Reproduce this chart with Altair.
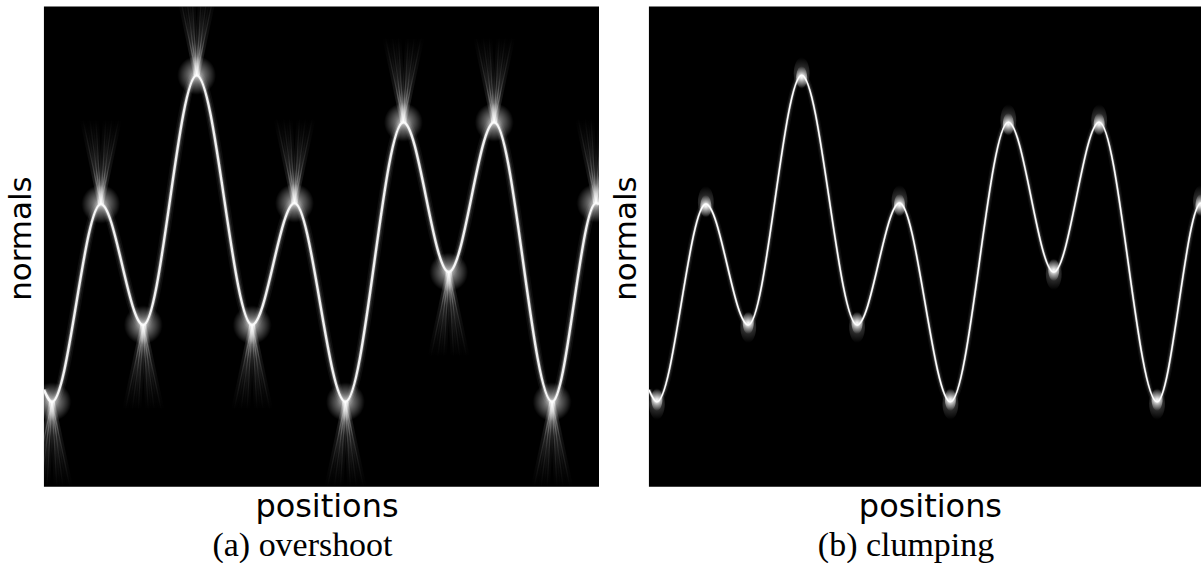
import altair as alt
import pandas as pd

# Sampled curve: turning points of the reconstructed signal (plot units = px)
positions = [0, 8, 57, 99.5, 153, 208.5, 251, 302, 360, 405.5, 451, 509, 553, 556]
normals = [97, 85, 283, 162, 412, 162, 284, 85, 365, 215, 365, 85, 284, 283]
# Turning-point type for each interior sample (indices 1..12)
turn_kind = ["trough", "peak", "trough", "peak", "trough", "peak",
             "trough", "peak", "trough", "peak", "trough", "peak"]

panel_titles = ["(a) overshoot", "(b) clumping"]
panel_widths = [556, 553]
PANEL_H = 481

# Star-ray fan around each turning point (overshoot panel)
RAY_TIPS = [-18, -11, -5, 5, 11, 18]
RAY_LEN = 85

curve = pd.DataFrame({"position": positions, "normal": normals})
turns = pd.DataFrame({
    "position": positions[1:13],
    "normal": normals[1:13],
    "kind": turn_kind,
})

rays = []
for _, r in turns.iterrows():
    sgn = 1 if r["kind"] == "peak" else -1
    for dx in RAY_TIPS:
        rays.append({
            "position": r["position"], "normal": r["normal"],
            "position2": r["position"] + dx,
            "normal2": r["normal"] + sgn * RAY_LEN,
            "kind": r["kind"],
        })
rays = pd.DataFrame(rays)

SANS = "DejaVu Sans"
SERIF = "Liberation Serif"


def fade(up, a0):
    return alt.LinearGradient(
        gradient="linear",
        stops=[
            alt.GradientStop(color=f"rgba(255,255,255,{a0})", offset=0),
            alt.GradientStop(color=f"rgba(255,255,255,{a0 * 0.4})", offset=0.4),
            alt.GradientStop(color="rgba(255,255,255,0)", offset=1),
        ],
        x1=0, x2=0, y1=1 if up else 0, y2=0 if up else 1,
    )


def glow(a0):
    return alt.RadialGradient(
        gradient="radial",
        stops=[
            alt.GradientStop(color=f"rgba(255,255,255,{a0})", offset=0),
            alt.GradientStop(color=f"rgba(255,255,255,{a0 * 0.5})", offset=0.45),
            alt.GradientStop(color="rgba(255,255,255,0)", offset=1),
        ],
    )


def panel(idx):
    w = panel_widths[idx]
    xs = alt.Scale(domain=[0, w], nice=False, zero=False)
    ys = alt.Scale(domain=[0, PANEL_H], nice=False, zero=False)
    x_axis = alt.Axis(title="positions", labels=False, ticks=False, domain=False,
                      grid=False, titleFont=SANS, titleFontSize=32,
                      titleFontWeight="normal", titleColor="black",
                      titlePadding=5, titleX=w / 2 + 5)
    y_axis = alt.Axis(title="normals", labels=False, ticks=False, domain=False,
                      grid=False, titleFont=SANS, titleFontSize=31,
                      titleFontWeight="normal", titleColor="black",
                      titlePadding=6, titleY=232)
    X = alt.X("position:Q", scale=xs, axis=x_axis)
    Y = alt.Y("normal:Q", scale=ys, axis=y_axis)

    cb = alt.Chart(curve)
    layers = []
    if idx == 0:
        halo = [(10, 0.05), (6.5, 0.1), (4, 0.25), (2.4, 0.92)]
    else:
        halo = [(7, 0.05), (4.5, 0.1), (2.6, 0.3), (1.6, 1.0)]
    for sw, op in halo:
        layers.append(cb.mark_line(interpolate="monotone", color="white",
                                   strokeWidth=sw, opacity=op, clip=True)
                      .encode(x=X, y=Y))

    tb = alt.Chart(turns)
    if idx == 0:
        rb = alt.Chart(rays)
        for kind, up in (("peak", True), ("trough", False)):
            for sw, a0 in ((6, 0.18), (1.2, 0.38)):
                layers.append(
                    rb.transform_filter(alt.datum.kind == kind)
                    .mark_rule(stroke=fade(up, a0), strokeWidth=sw, clip=True)
                    .encode(x=X, y=Y, x2="position2:Q", y2="normal2:Q"))
        layers.append(tb.mark_point(shape="circle", size=1500, filled=True,
                                    fill=glow(0.75), strokeWidth=0,
                                    opacity=1, clip=True)
                      .encode(x=X, y=Y))
    else:
        ellipse = "M -0.5 0 A 0.5 1 0 1 0 0.5 0 A 0.5 1 0 1 0 -0.5 0 Z"
        for kind, shift in (("peak", 1), ("trough", -1)):
            sub = tb.transform_filter(alt.datum.kind == kind)
            layers.append(sub.mark_point(shape=ellipse, size=1000, filled=True,
                                         fill=glow(0.3), strokeWidth=0,
                                         opacity=1, clip=True, yOffset=-shift * 2)
                          .encode(x=X, y=Y))
            layers.append(sub.mark_point(shape=ellipse, size=480, filled=True,
                                         fill=glow(1.0), strokeWidth=0,
                                         opacity=1, clip=True, yOffset=shift * 2)
                          .encode(x=X, y=Y))

    return alt.layer(*layers).properties(
        width=w, height=PANEL_H,
        title=alt.TitleParams(panel_titles[idx], orient="bottom", anchor="middle",
                              frame="bounds", font=SERIF, fontSize=34,
                              fontWeight="normal", color="black", offset=6),
    )


chart = (
    alt.hconcat(panel(0), panel(1), spacing=12)
    .properties(padding={"left": 6, "top": 6, "right": 0, "bottom": 0},
                background="white")
    .configure_view(fill="black", strokeWidth=0)
)

chart.save("out.html", embed_options={"renderer": "svg", "actions": False})
